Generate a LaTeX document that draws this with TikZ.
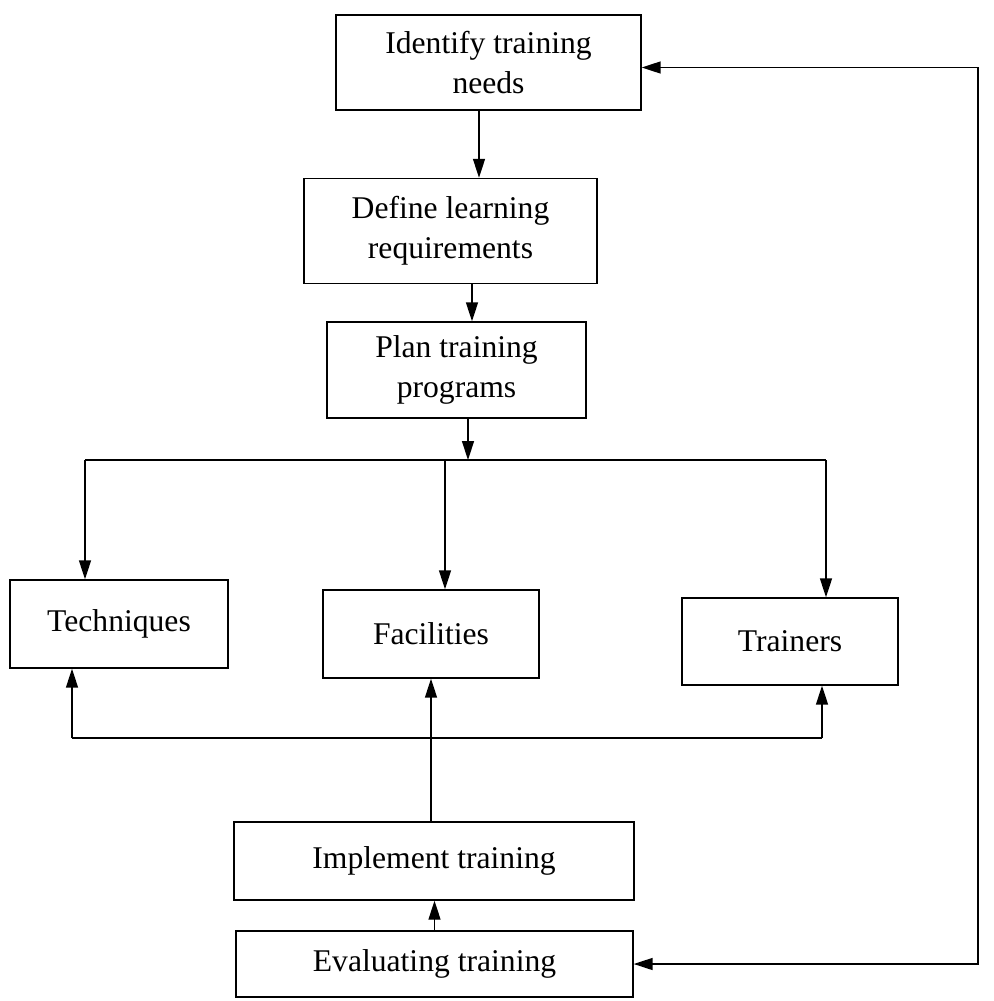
\documentclass[tikz,border=0pt]{standalone}
\usepackage{fontspec}
\setmainfont{Liberation Serif}
\usetikzlibrary{arrows.meta}

\begin{document}
\begin{tikzpicture}[x=0.02cm, y=-0.02cm, line width=0.8pt,
		>={Triangle[length=0.38cm,width=0.24cm]},
		box/.style={draw, align=center, inner sep=0pt, font=\fontsize{18}{23}\selectfont}]
		\useasboundingbox (0,0) rectangle (994,1001);

		\node [box, minimum width=6.1cm, minimum height=1.9cm] (need) at (488.5,62.5) {Identify training\\needs};
		\node [box, minimum width=5.86cm, minimum height=2.1cm] (define) at (450.5,231) {Define learning\\requirements};
		\node [box, minimum width=5.18cm, minimum height=1.92cm] (plan) at (456.5,370) {Plan training\\programs};

		\node [box, minimum width=4.36cm, minimum height=1.76cm] (tech) at (119,624) {Techniques};
		\node [box, minimum width=4.32cm, minimum height=1.76cm] (fac) at (431,634) {Facilities};
		\node [box, minimum width=4.32cm, minimum height=1.74cm] (trainers) at (790,641.5) {Trainers};

		\node [box, minimum width=8cm, minimum height=1.56cm] (impl) at (434,861) {Implement training};
		\node [box, minimum width=7.94cm, minimum height=1.32cm] (eval) at (434.5,964) {Evaluating training};

		\coordinate (bus) at (468,460);
		\coordinate (btech) at (85,460);
		\coordinate (bfac) at (445,460);
		\coordinate (btrain) at (826,460);
		\coordinate (ltech) at (72,738);
		\coordinate (ltrain) at (822,738);
		\coordinate (rloop) at (978,500);

		\draw [->] ([xshift=-0.19cm]need.south) -- ([xshift=-0.19cm]need.south |- define.north);
		\draw [->] ([xshift=0.43cm]define.south) -- ([xshift=0.43cm]define.south |- plan.north);
		\draw [->] (bus |- plan.south) -- (bus);

		\draw (btech) -- (btrain);
		\draw [->] (btech) -- (btech |- tech.north);
		\draw [->] (bfac) -- (bfac |- fac.north);
		\draw [->] (btrain) -- (btrain |- trainers.north);

		\draw (ltech) -- (ltrain);
		\draw [->] (ltech) -- (ltech |- tech.south);
		\draw [->] (ltrain) -- (ltrain |- trainers.south);
		\draw [->] (impl.north -| fac.south) -- (fac.south);
		\draw [->] (eval.north) -- (eval.north |- impl.south);

		\draw [<->] (eval.east) -- (eval.east -| rloop) -- ([yshift=-0.1cm]need.east -| rloop) -- ([yshift=-0.1cm]need.east);
	\end{tikzpicture}
\end{document}
